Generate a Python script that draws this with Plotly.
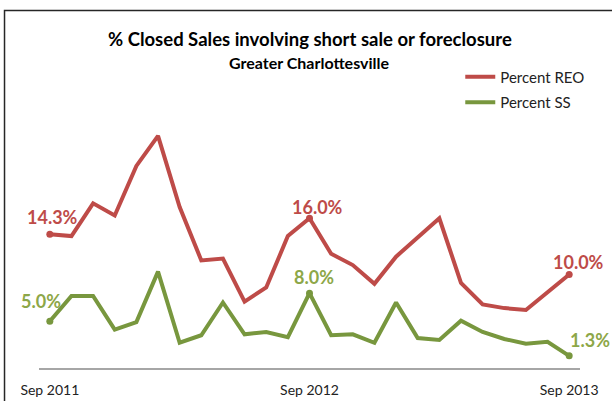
import plotly.graph_objects as go

months = ["Sep 2011", "Oct 2011", "Nov 2011", "Dec 2011", "Jan 2012", "Feb 2012",
          "Mar 2012", "Apr 2012", "May 2012", "Jun 2012", "Jul 2012", "Aug 2012",
          "Sep 2012", "Oct 2012", "Nov 2012", "Dec 2012", "Jan 2013", "Feb 2013",
          "Mar 2013", "Apr 2013", "May 2013", "Jun 2013", "Jul 2013", "Aug 2013",
          "Sep 2013"]
pct_reo = [14.3, 14.1, 17.6, 16.3, 21.6, 24.8, 17.2, 11.5, 11.7, 7.1, 8.6, 14.1,
           16.0, 12.2, 11.0, 9.0, 11.9, 14.0, 16.0, 9.1, 6.8, 6.4, 6.2, 8.1, 10.0]
pct_ss = [5.0, 7.7, 7.7, 4.1, 4.9, 10.3, 2.7, 3.5, 7.0, 3.6, 3.85, 3.3,
          8.0, 3.5, 3.6, 2.7, 7.0, 3.2, 3.0, 5.05, 3.85, 3.1, 2.6, 2.8, 1.3]
tick_labels = ["Sep 2011", "Sep 2012", "Sep 2013"]
label_idx = [0, 12, 24]

title = "% Closed Sales involving short sale or foreclosure"
subtitle = "Greater Charlottesville"

RED = "#BE4B48"
GREEN_LINE = "#78973E"
GREEN_TEXT = "#8DA748"
FONT = "Lato"

W, H = 612, 401
L, R, T, B = 38.5, 32.2, 105.7, 32.7
pw = W - L - R
ph = H - T - B

lab_x = [months[i] for i in label_idx]
reo_lab = [pct_reo[i] for i in label_idx]
ss_lab = [pct_ss[i] for i in label_idx]

fig = go.Figure()
fig.add_trace(go.Scatter(x=months, y=pct_reo, mode="lines", name="Percent REO",
                         line=dict(color=RED, width=4), legendgroup="reo"))
fig.add_trace(go.Scatter(x=months, y=pct_ss, mode="lines", name="Percent SS",
                         line=dict(color=GREEN_LINE, width=4), legendgroup="ss"))
fig.add_trace(go.Scatter(x=lab_x, y=reo_lab, mode="markers", showlegend=False,
                         marker=dict(size=7, color=RED)))
fig.add_trace(go.Scatter(x=lab_x, y=ss_lab, mode="markers", showlegend=False,
                         marker=dict(size=7, color=GREEN_LINE)))

annotations = []
reo_shift = [(3, 17), (8, 11), (9, 12)]
ss_shift = [(-9, 20), (4, 16), (21, 16)]
for k in range(len(label_idx)):
    dx, dy = reo_shift[k]
    annotations.append(dict(x=lab_x[k], y=reo_lab[k], xref="x", yref="y",
                            text=f"{reo_lab[k]:.1f}%", showarrow=False,
                            xshift=dx, yshift=dy,
                            font=dict(family=FONT, size=18, color=RED, weight="bold")))
    dx, dy = ss_shift[k]
    annotations.append(dict(x=lab_x[k], y=ss_lab[k], xref="x", yref="y",
                            text=f"{ss_lab[k]:.1f}%", showarrow=False,
                            xshift=dx, yshift=dy,
                            font=dict(family=FONT, size=18, color=GREEN_TEXT, weight="bold")))

def px_x(p):
    return (p - L) / pw

def px_y(p):
    return (H - B - p) / ph

annotations.append(dict(x=px_x(309.5), y=px_y(39), xref="paper", yref="paper",
                        text=title, showarrow=False, xanchor="center", yanchor="middle",
                        font=dict(family=FONT, size=18.5, color="#000", weight="bold")))
annotations.append(dict(x=px_x(309.5), y=px_y(62), xref="paper", yref="paper",
                        text=subtitle, showarrow=False, xanchor="center", yanchor="middle",
                        font=dict(family=FONT, size=16, color="#000", weight="bold")))

shapes = [dict(type="rect", xref="paper", yref="paper",
               x0=px_x(4), x1=px_x(700), y0=px_y(500), y1=px_y(10),
               line=dict(color="#262626", width=1.5), fillcolor="rgba(0,0,0,0)",
               layer="below")]

fig.update_layout(
    width=W, height=H,
    margin=dict(l=L, r=R, t=T, b=B, autoexpand=False),
    paper_bgcolor="white", plot_bgcolor="white",
    showlegend=True,
    legend=dict(x=px_x(460), y=px_y(60), xanchor="left", yanchor="top",
                font=dict(family=FONT, size=15, color="#222"),
                bgcolor="rgba(0,0,0,0)", tracegroupgap=3),
    annotations=annotations,
    shapes=shapes,
    xaxis=dict(type="category", range=[-0.5, 24.5], tickmode="array",
               tickvals=tick_labels, ticktext=tick_labels,
               showline=True, linecolor="#A6A6A6", linewidth=1.5,
               showgrid=False, zeroline=False,
               ticks="outside", ticklen=8, tickcolor="rgba(0,0,0,0)",
               tickfont=dict(family=FONT, size=14, color="#222")),
    yaxis=dict(range=[0, 28], visible=False, showgrid=False, zeroline=False),
)

fig.write_html("out.html", config={"displayModeBar": False},
               post_script="document.body.style.margin='0';document.body.style.overflow='hidden';")
